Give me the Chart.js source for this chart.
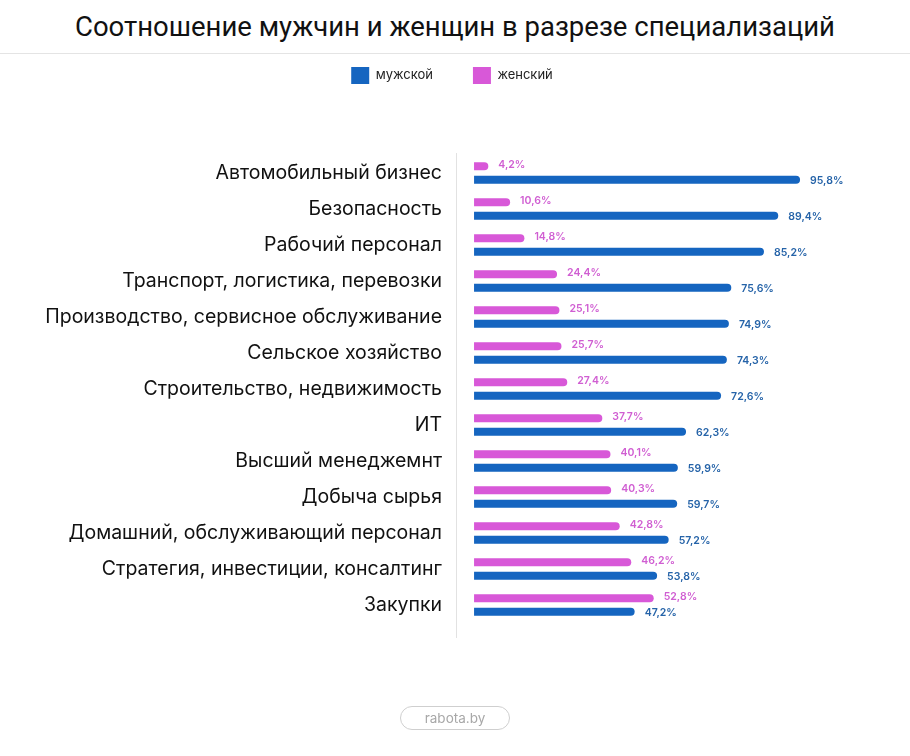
<!DOCTYPE html>
<html lang="ru">
<head>
<meta charset="utf-8">
<script src="https://cdn.jsdelivr.net/npm/chart.js@4.4.0/dist/chart.umd.min.js"></script>
<style>
  html, body { margin: 0; padding: 0; background: #fff; }
  body { width: 910px; height: 756px; position: relative; overflow: hidden; font-family: Inter, sans-serif; }
  #title { position: absolute; top: 8px; left: 0; width: 910px; text-align: center; font-family: Roboto, sans-serif; font-size: 27.5px; color: #111; line-height: 38px; }
  #rule { position: absolute; top: 53px; left: 0; width: 910px; height: 1px; background: #e4e4e4; }
  #wrap { position: absolute; top: 0; left: 0; width: 910px; height: 756px; }
  #footer { position: absolute; top: 706px; left: 400px; width: 108px; height: 22px; border: 1px solid #cfcfcf; border-radius: 12px; text-align: center; font-size: 13.5px; line-height: 22px; color: #a8a8a8; }
</style>
</head>
<body>
<div id="title">Соотношение мужчин и женщин в разрезе специализаций</div>
<div id="rule"></div>
<div id="wrap"><canvas id="genderChart"></canvas></div>
<div id="footer">rabota.by</div>
<script>
const categories = [
    'Автомобильный бизнес',
    'Безопасность',
    'Рабочий персонал',
    'Транспорт, логистика, перевозки',
    'Производство, сервисное обслуживание',
    'Сельское хозяйство',
    'Строительство, недвижимость',
    'ИТ',
    'Высший менеджемнт',
    'Добыча сырья',
    'Домашний, обслуживающий персонал',
    'Стратегия, инвестиции, консалтинг',
    'Закупки'
];
const female = [4.2, 10.6, 14.8, 24.4, 25.1, 25.7, 27.4, 37.7, 40.1, 40.3, 42.8, 46.2, 52.8];
const male = [95.8, 89.4, 85.2, 75.6, 74.9, 74.3, 72.6, 62.3, 59.9, 59.7, 57.2, 53.8, 47.2];

const blue = '#1565C0';
const pink = '#D858D8';

// value labels at the end of each bar
const barLabels = {
    id: 'barLabels',
    afterDatasetsDraw(chart) {
        const ctx = chart.ctx;
        ctx.save();
        ctx.font = '600 10.5px Inter, sans-serif';
        ctx.textAlign = 'left';
        ctx.textBaseline = 'middle';
        chart.data.datasets.forEach((ds, i) => {
            const meta = chart.getDatasetMeta(i);
            ctx.fillStyle = ds.labelColor;
            meta.data.forEach((bar, j) => {
                const txt = ds.data[j].toFixed(1).replace('.', ',') + '%';
                ctx.fillText(txt, bar.x + 10, bar.y + ds.labelShift);
            });
        });
        ctx.restore();
    }
};

// thin vertical line left of the bars
const axisLine = {
    id: 'axisLine',
    beforeDatasetsDraw(chart) {
        const a = chart.chartArea;
        const ctx = chart.ctx;
        ctx.save();
        ctx.strokeStyle = '#e2e2e2';
        ctx.lineWidth = 1;
        ctx.beginPath();
        ctx.moveTo(a.left + 0.5, a.top - 2);
        ctx.lineTo(a.left + 0.5, a.bottom + 15);
        ctx.stroke();
        ctx.restore();
    }
};

const ctx = document.getElementById('genderChart').getContext('2d');
const genderChart = new Chart(ctx, {
    type: 'bar',
    data: {
        labels: categories,
        datasets: [{
            label: 'женский',
            data: female,
            backgroundColor: pink,
            labelColor: '#D05ED2',
            labelShift: -1,
            borderRadius: 5,
            borderSkipped: 'start',
            categoryPercentage: 0.748,
            barPercentage: 0.6
        }, {
            label: 'мужской',
            data: male,
            backgroundColor: blue,
            labelColor: '#2563A8',
            labelShift: 1,
            borderRadius: 5,
            borderSkipped: 'start',
            categoryPercentage: 0.748,
            barPercentage: 0.6
        }]
    },
    options: {
        indexAxis: 'y',
        responsive: true,
        maintainAspectRatio: false,
        animation: false,
        layout: {
            padding: { top: 27, left: 0, right: 6, bottom: 133 }
        },
        plugins: {
            tooltip: { enabled: false },
            legend: {
                position: 'top',
                reverse: true,
                labels: {
                    boxWidth: 18,
                    boxHeight: 17,
                    padding: 40,
                    color: '#222',
                    font: { family: 'Inter, sans-serif', size: 13 }
                }
            }
        },
        scales: {
            x: {
                position: 'top',
                min: -5.3,
                max: 126.35,
                grid: { display: false, drawTicks: false },
                border: { display: false },
                ticks: { display: false },
                afterFit: (scale) => { scale.height = 61; }
            },
            y: {
                grid: { display: false, drawTicks: false },
                border: { display: false },
                ticks: {
                    padding: 14,
                    color: '#111',
                    font: { family: 'Inter, sans-serif', size: 19.5 }
                },
                afterFit: (scale) => { scale.width = 456; }
            }
        }
    },
    plugins: [barLabels, axisLine]
});
</script>
</body>
</html>
